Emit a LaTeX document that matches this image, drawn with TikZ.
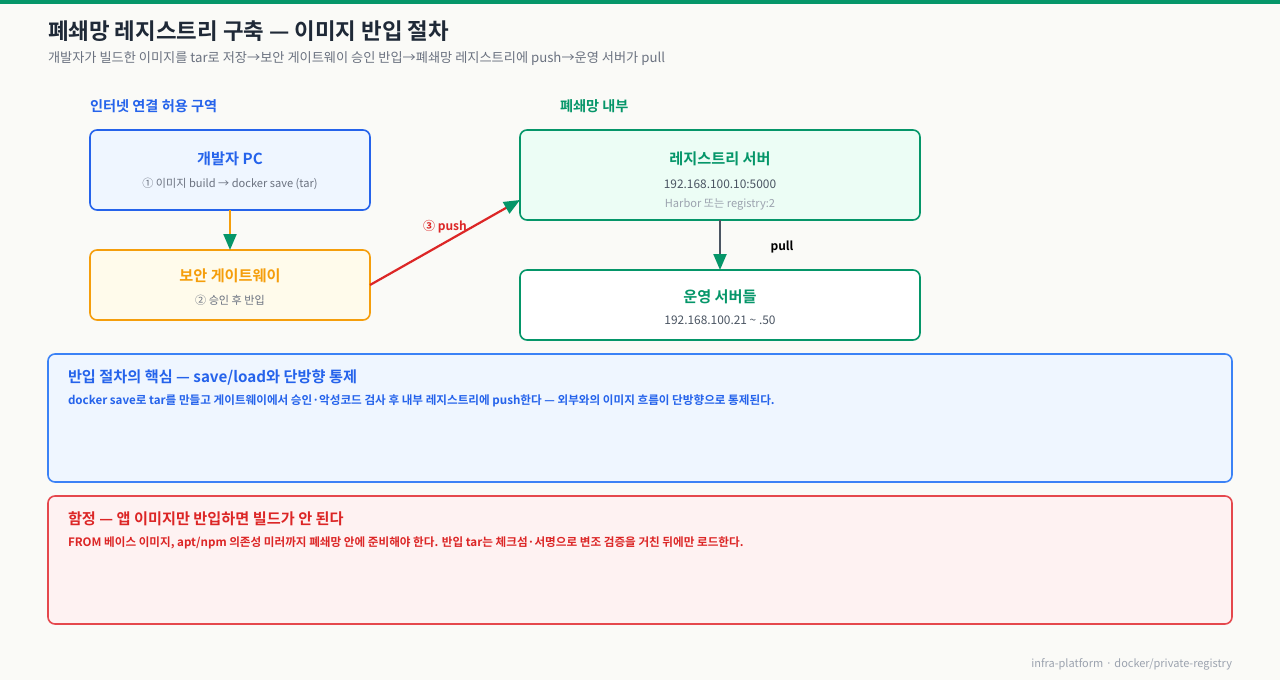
\documentclass[tikz,border=0pt]{standalone}
\usepackage{fontspec}
\setmainfont{Noto Sans CJK KR}[BoldFont={Noto Sans CJK KR Bold}]
\usetikzlibrary{arrows.meta}
\definecolor{bg}{HTML}{FAFAF7}
\definecolor{gr}{HTML}{059669}
\definecolor{bl}{HTML}{2563EB}
\definecolor{blL}{HTML}{3B82F6}
\definecolor{or}{HTML}{F59E0B}
\definecolor{rd}{HTML}{DC2626}
\definecolor{rdL}{HTML}{E5484D}
\definecolor{tx}{HTML}{1F2937}
\definecolor{gy}{HTML}{6B7280}
\definecolor{gyd}{HTML}{4B5563}
\definecolor{gyl}{HTML}{9CA3AF}
\definecolor{fbl}{HTML}{EFF6FF}
\definecolor{for}{HTML}{FFFBEB}
\definecolor{fgr}{HTML}{ECFDF5}
\definecolor{frd}{HTML}{FEF2F2}
\tikzset{
  box/.style={draw, line width=1.6pt, rounded corners=7pt},
  lbl/.style={inner sep=0pt, outer sep=0pt, yshift=-2pt},
  ttl/.style={lbl, font=\bfseries\fontsize{15.2}{17}\selectfont},
  sub/.style={lbl, font=\fontsize{11.1}{13}\selectfont, text=gy},
  conn/.style={line width=2.2pt},
  gtip/.style={-{Triangle[length=16pt,width=13pt,color=gr]}},
}
\begin{document}
\begin{tikzpicture}[x=1pt,y=-1pt]
\useasboundingbox (0,0) rectangle (1280,680);
\fill[bg] (0,0) rectangle (1280,680);
\fill[gr] (0,0) rectangle (1280,4);
% title
\node[lbl, anchor=west, text=tx, font=\bfseries\fontsize{22.4}{26}\selectfont] (title) at (48,29) {폐쇄망 레지스트리 구축 — 이미지 반입 절차};
\node[lbl, anchor=west, text=gy, font=\fontsize{13.2}{15}\selectfont] (subtitle) at (48,57) {개발자가 빌드한 이미지를 tar로 저장→보안 게이트웨이 승인 반입→폐쇄망 레지스트리에 push→운영 서버가 pull};
% zone labels
\node[lbl, anchor=west, text=bl, font=\bfseries\fontsize{14.2}{16}\selectfont] (zone1) at (90,104) {인터넷 연결 허용 구역};
\node[lbl, anchor=west, text=gr, font=\bfseries\fontsize{14.2}{16}\selectfont] (zone2) at (560,104) {폐쇄망 내부};
% boxes
\draw[box, draw=bl, fill=fbl] (90,130) rectangle (370,210);
\node[ttl, text=bl] (pcT) at (230,157) {개발자 PC};
\node[sub] (pcS) at (230,182) {① 이미지 build → docker save (tar)};

\draw[box, draw=or, fill=for] (90,250) rectangle (370,320);
\node[ttl, text=or] (gwT) at (230,274) {보안 게이트웨이};
\node[sub] (gwS) at (230,298) {② 승인 후 반입};

\draw[box, draw=gr, fill=fgr] (520,130) rectangle (920,220);
\node[ttl, text=gr] (rgT) at (720,157) {레지스트리 서버};
\node[sub, text=gyd, font=\fontsize{11.9}{14}\selectfont] (rgS) at (720,182) {192.168.100.10:5000};
\node[sub, text=gyl] (rgS2) at (720,202) {Harbor 또는 registry:2};

\draw[box, draw=gr, fill=white] (520,270) rectangle (920,340);
\node[ttl, text=gr] (opT) at (720,295) {운영 서버들};
\node[sub, text=gyd, font=\fontsize{11.9}{14}\selectfont] (opS) at (720,318) {192.168.100.21 \textasciitilde{} .50};

% connector anchors
\coordinate (pcB) at (230,210);
\coordinate (gwTop) at (230,250);
\coordinate (gwR) at (370,285);
\coordinate (rgL) at (520,200);
\coordinate (rgB) at (720,220);
\coordinate (opTop) at (720,270);
\draw[conn, draw=or, gtip] (pcB) -- (gwTop);
\draw[conn, draw=rd, gtip] (gwR) -- (rgL);
\draw[conn, draw=gyd, gtip] (rgB) -- (opTop);
\node[lbl, text=rd, font=\bfseries\fontsize{12}{14}\selectfont] (pushL) at (445,225) {③ push};
\node[lbl, text=black, font=\bfseries\fontsize{12}{14}\selectfont] (pullL) at (782,245) {pull};

% note boxes
\draw[box, draw=blL, fill=fbl] (48,354) rectangle (1232,482);
\node[lbl, anchor=west, text=bl, font=\bfseries\fontsize{15.2}{17}\selectfont] (n1T) at (68,375) {반입 절차의 핵심 — save/load와 단방향 통제};
\node[lbl, anchor=west, text=bl, font=\bfseries\fontsize{11.6}{13}\selectfont] (n1B) at (68,399) {docker save로 tar를 만들고 게이트웨이에서 승인·악성코드 검사 후 내부 레지스트리에 push한다 — 외부와의 이미지 흐름이 단방향으로 통제된다.};

\draw[box, draw=rdL, fill=frd] (48,496) rectangle (1232,624);
\node[lbl, anchor=west, text=rd, font=\bfseries\fontsize{15.2}{17}\selectfont] (n2T) at (68,517) {함정 — 앱 이미지만 반입하면 빌드가 안 된다};
\node[lbl, anchor=west, text=rd, font=\bfseries\fontsize{11.6}{13}\selectfont] (n2B) at (68,541) {FROM 베이스 이미지, apt/npm 의존성 미러까지 폐쇄망 안에 준비해야 한다. 반입 tar는 체크섬·서명으로 변조 검증을 거친 뒤에만 로드한다.};

\node[lbl, anchor=east, text=gyl, font=\fontsize{11}{13}\selectfont] (foot) at (1232,662) {infra-platform · docker/private-registry};
\end{tikzpicture}
\end{document}
